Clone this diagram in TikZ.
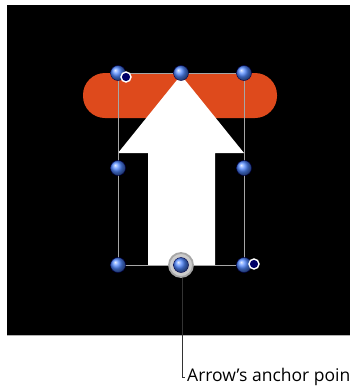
\documentclass[tikz,border=0pt]{standalone}
\usepackage{fontspec}
\setmainfont{Open Sans}
\definecolor{pill}{RGB}{222,74,28}
\definecolor{hblue}{RGB}{80,135,255}
\begin{document}
\begin{tikzpicture}[x=1pt,y=-1pt,
  handle/.style={circle,minimum size=15pt,inner sep=0pt,shading=ball,ball color=hblue,draw=blue!30!black,line width=0.4pt},
  ring/.style={circle,minimum size=10pt,inner sep=0pt,draw=white,line width=1.4pt,fill=blue!40!black},
  frame/.style={draw=gray!70,line width=1pt},
  leader/.style={draw=black!80,line width=0.8pt}]
\useasboundingbox (0,0) rectangle (350,386);
\clip (0,0) rectangle (350,386);
\fill[white] (0,0) rectangle (350,386);
\fill[black] (7,5) rectangle (350,335);
\draw[gray!60,line width=1pt] (7,335) -- (350,335);
% orange pill
\fill[pill,rounded corners=22pt] (83,73) rectangle (277,118);
% white arrow
\fill[white] (181,75) -- (244,153) -- (215,153) -- (215,265) -- (148,265) -- (148,153) -- (118,153) -- cycle;
% frame
\draw[frame] (118,73) rectangle (244,265);
% handles
\node[handle] (tl) at (118,73) {};
\node[handle] (tc) at (181,73) {};
\node[handle] (tr) at (244,73) {};
\node[handle] (ml) at (118,168) {};
\node[handle] (mr) at (244,168) {};
\node[handle] (bl) at (118,265) {};
\node[handle] (br) at (244,265) {};
\node[ring] (tlr) at (126,77) {};
\node[ring] (brr) at (254,264) {};
\node[circle,minimum size=24pt,inner sep=0pt,draw=gray!70,line width=1.8pt,fill=gray!40] (ancring) at (181,265) {};
\node[handle] (anc) at (181,265) {};
\coordinate (lbend) at (182,377);
\node[anchor=base west,inner sep=0pt,font=\fontsize{17.5}{20}\selectfont] (lbl) at (187,381) {Arrow’s anchor point};
\draw[leader] (ancring.south -| lbend) -- (lbend) -- ++(2.5,0);
\end{tikzpicture}
\end{document}
